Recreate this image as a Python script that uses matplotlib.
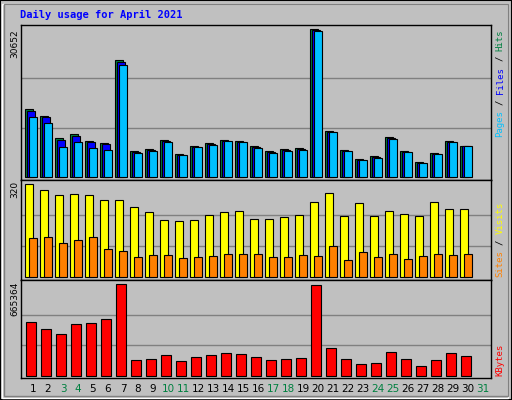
import matplotlib
matplotlib.use("Agg")
import matplotlib.pyplot as plt
import numpy as np

days = list(range(1, 32))
weekend = [3, 4, 10, 11, 17, 18, 24, 25, 31]
hits = [14078, 12552, 8045, 8807, 7351, 6935, 24203, 5271, 5687, 7559, 4646, 6380, 6935, 7559, 7351,
        6380, 5271, 5687, 5895, 30652, 9432, 5479, 3606, 4230, 8253, 5271, 2982, 4854, 7351, 6311]
files = [13731, 12344, 7629, 8461, 7143, 6727, 23856, 5132, 5548, 7420, 4508, 6242, 6796, 7490, 7282,
         6242, 5132, 5548, 5756, 30583, 9293, 5340, 3537, 4092, 8114, 5201, 2913, 4716, 7212, 6311]
pages = [12344, 11096, 6103, 7143, 5895, 5479, 23163, 4855, 5271, 7143, 4438, 6103, 6519, 7351, 7143,
         5895, 4855, 5271, 5479, 30375, 9224, 5271, 3398, 3815, 7767, 5063, 2774, 4646, 7143, 6311]
visits = [320, 299, 282, 285, 282, 265, 265, 241, 224, 196, 192, 196, 213, 224, 227,
          199, 199, 206, 213, 258, 289, 209, 254, 209, 227, 216, 209, 258, 234, 234]
sites = [133, 136, 115, 126, 139, 95, 88, 67, 74, 74, 64, 67, 71, 78, 78,
         78, 67, 67, 74, 71, 105, 57, 84, 67, 78, 60, 71, 78, 74, 78]
kbytes = [390000, 337000, 301000, 374000, 381000, 410000, 665364, 111000, 119000, 148000, 104000, 133000,
          148000, 163000, 155000, 133000, 111000, 119000, 126000, 658000, 204000, 119000, 82000, 90000,
          170000, 119000, 68000, 111000, 163000, 141000]

BG = "#C0C0C0"
C_HITS, C_FILES, C_PAGES = "#008040", "#0000FF", "#00C0FF"
C_VIS, C_SITES, C_KB = "#FFFF00", "#FF8000", "#FF0000"

W, H = 512, 400
fig = plt.figure(figsize=(5.12, 4.0), dpi=100, facecolor=BG)

# bevel border
from matplotlib.patches import Rectangle
fig.patches.append(Rectangle((0, 0), 1, 1, transform=fig.transFigure, fill=False, edgecolor="black", lw=1.5))
fig.patches.append(Rectangle((2/W, 2/H), 1-6/W, 1-6/H, transform=fig.transFigure, fill=False, edgecolor="white", lw=1))
fig.patches.append(Rectangle((4/W, 4/H), 1-8/W, 1-8/H, transform=fig.transFigure, fill=False, edgecolor="#808080", lw=1))

def ax_at(top, bottom):
    return fig.add_axes([20.7/W, 1-bottom/H, 470/W, (bottom-top)/H], facecolor=BG)

u = 1/15.0
pos = np.arange(len(hits))
xl = (-0.31, 31.03)

def style(ax, ylim, gmax):
    ax.set_xlim(*xl)
    ax.set_ylim(*ylim)
    ax.set_xticks([]); ax.set_yticks([])
    for y in (gmax/3, 2*gmax/3):
        ax.axhline(y, color="#808080", lw=1, zorder=0)
    for s in ax.spines.values():
        s.set_color("black"); s.set_linewidth(1)

mono = "DejaVu Sans Mono"
fig.text(20/W, 1-15/H, "Daily usage for April 2021", color="#0000FF", family=mono,
         weight="bold", fontsize=7.5, va="center", ha="left")

# top
a1 = ax_at(25, 180)
style(a1, (-686, 31546), 30652)
kw = dict(width=8*u, align="edge", edgecolor="black", linewidth=0.8)
a1.bar(pos, hits, color=C_HITS, **kw)
a1.bar(pos + 2*u, files, color=C_FILES, **kw)
a1.bar(pos + 4*u, pages, color=C_PAGES, **kw)

a2 = ax_at(180, 280.3)
style(a2, (-12.5, 335), 320)
a2.bar(pos, visits, color=C_VIS, **kw)
a2.bar(pos + 4*u, sites, color=C_SITES, **kw)

a3 = ax_at(280.3, 377.7)
style(a3, (-14575, 695300), 665364)
a3.bar(pos + 1*u, kbytes, width=10*u, align="edge", edgecolor="black", linewidth=0.8, color=C_KB)

# left max labels
for txt, ytop in (("30652", 29), ("320", 181), ("665364", 282)):
    fig.text(15/W, 1-ytop/H, txt, rotation=90, fontsize=6.5, va="top", ha="center", color="black")

# right legends
def legend(segs, ybottom):
    y = ybottom
    cw = 5.4
    for s, c in segs:
        n = len(s)
        if s.strip():
            st = s.strip()
            off = (n - len(st)) / 2
            fig.text(500/W, 1-(y - off*cw)/H, st, rotation=90, fontsize=6.5, family=mono,
                     color=c, va="bottom", ha="center")
        y -= n*cw

legend([("Pages", C_PAGES), (" / ", "black"), ("Files", C_FILES), (" / ", "black"), ("Hits", C_HITS)], 137)
legend([("Sites", C_SITES), (" / ", "black"), ("Visits", C_VIS)], 277)
legend([("KBytes", C_KB)], 376)

for d in days:
    xp = 25.3 + 15*(d-1) + 7.7
    fig.text(xp/W, 1-389/H, str(d), fontsize=7.5, ha="center", va="center",
             color=C_HITS if d in weekend else "black")

fig.savefig("out.png", dpi=100, facecolor=BG)
